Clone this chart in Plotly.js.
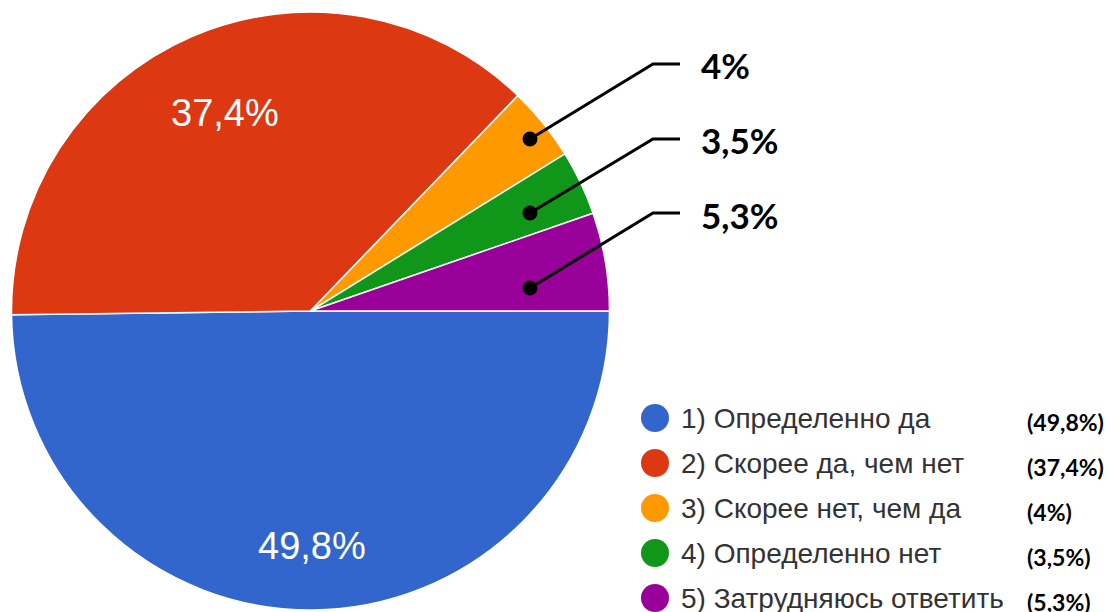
<!DOCTYPE html>
<html>
<head>
<meta charset="utf-8">
<script src="https://cdn.plot.ly/plotly-3.0.1.min.js"></script>
<style>html,body{margin:0;padding:0;background:#fff;}#chart{width:1111px;height:612px;}</style>
</head>
<body>
<div id="chart"></div>
<script>
const categories = ['1) Определенно да', '2) Скорее да, чем нет', '3) Скорее нет, чем да', '4) Определенно нет', '5) Затрудняюсь ответить'];
const values = [49.8, 37.4, 4, 3.5, 5.3];
const percentLabels = ['49,8%', '37,4%', '4%', '3,5%', '5,3%'];
const legendPercentLabels = ['(49,8%)', '(37,4%)', '(4%)', '(3,5%)', '(5,3%)'];

const colors = ['#3366CC', '#DC3912', '#FF9900', '#109618', '#990099'];
const W = 1111, H = 612;
const px = x => x / W;
const py = y => 1 - y / H;

const cx = 310.5, cy = 311, R = 299;

const trace = {
  type: 'pie',
  labels: categories,
  values: values,
  sort: false,
  direction: 'clockwise',
  rotation: 90,
  textinfo: 'none',
  marker: {colors: colors, line: {color: '#ffffff', width: 1.5}},
  hoverinfo: 'none',
  showlegend: false,
  domain: {x: [px(cx - R), px(cx + R)], y: [py(cy + R), py(cy - R)]}
};

const shapes = [];
const annotations = [];

// Inside labels for the two big slices, placed at each slice's mid-angle
const total = values.reduce((a, b) => a + b, 0);
const insideRadiusFactor = [0.785, 0.72];
let cum = 0;
values.forEach((v, i) => {
  const mid = (cum + v / 2) / total * 2 * Math.PI; // clockwise from 3 o'clock
  cum += v;
  if (i < 2) {
    const f = insideRadiusFactor[i];
    const x = cx + f * R * Math.cos(mid);
    const y = cy + f * R * Math.sin(mid);
    annotations.push({
      xref: 'paper', yref: 'paper', x: px(x), y: py(y),
      xanchor: 'center', yanchor: 'middle', showarrow: false,
      text: percentLabels[i],
      font: {family: 'Liberation Sans, Arial, sans-serif', size: 38, color: '#ffffff'}
    });
  }
});

// Leader lines for small slices
const leaders = [
  {idx: 2, dot: [530, 139], bend: [653, 64], end: [680, 64], label: [699, 65]},
  {idx: 3, dot: [530, 213], bend: [653, 139], end: [680, 139], label: [699, 140]},
  {idx: 4, dot: [530, 288], bend: [653, 213], end: [680, 213], label: [699, 215]}
];
leaders.forEach(l => {
  shapes.push({
    type: 'path', xref: 'paper', yref: 'paper',
    path: `M ${px(l.dot[0])},${py(l.dot[1])} L ${px(l.bend[0])},${py(l.bend[1])} L ${px(l.end[0])},${py(l.end[1])}`,
    line: {color: '#000000', width: 3}
  });
  const r = 7.5;
  shapes.push({
    type: 'circle', xref: 'paper', yref: 'paper',
    x0: px(l.dot[0] - r), x1: px(l.dot[0] + r), y0: py(l.dot[1] + r), y1: py(l.dot[1] - r),
    fillcolor: '#000000', line: {width: 0}
  });
  annotations.push({
    xref: 'paper', yref: 'paper', x: px(l.label[0]), y: py(l.label[1]),
    xanchor: 'left', yanchor: 'middle', showarrow: false,
    text: '<b>' + percentLabels[l.idx] + '</b>',
    font: {family: 'Lato, Open Sans, sans-serif', size: 35, color: '#000000'}
  });
});

// Custom legend
const legendY0 = 418, legendDy = 45;
categories.forEach((c, i) => {
  const y = legendY0 + i * legendDy;
  const r = 14;
  shapes.push({
    type: 'circle', xref: 'paper', yref: 'paper',
    x0: px(655 - r), x1: px(655 + r), y0: py(y + r), y1: py(y - r),
    fillcolor: colors[i], line: {width: 0}
  });
  annotations.push({
    xref: 'paper', yref: 'paper', x: px(679), y: py(y),
    xanchor: 'left', yanchor: 'middle', showarrow: false,
    text: c,
    font: {family: 'Liberation Sans, Arial, sans-serif', size: 28, color: '#333333'}
  });
  annotations.push({
    xref: 'paper', yref: 'paper', x: px(1025), y: py(y + 4),
    xanchor: 'left', yanchor: 'middle', showarrow: false,
    text: '<b>' + legendPercentLabels[i] + '</b>',
    font: {family: 'Lato, Open Sans, sans-serif', size: 23, color: '#000000'}
  });
});

const layout = {
  width: W, height: H,
  margin: {l: 0, r: 0, t: 0, b: 0},
  paper_bgcolor: '#ffffff',
  showlegend: false,
  shapes: shapes,
  annotations: annotations
};

Plotly.newPlot('chart', [trace], layout, {displayModeBar: false, staticPlot: true});
</script>
</body>
</html>
